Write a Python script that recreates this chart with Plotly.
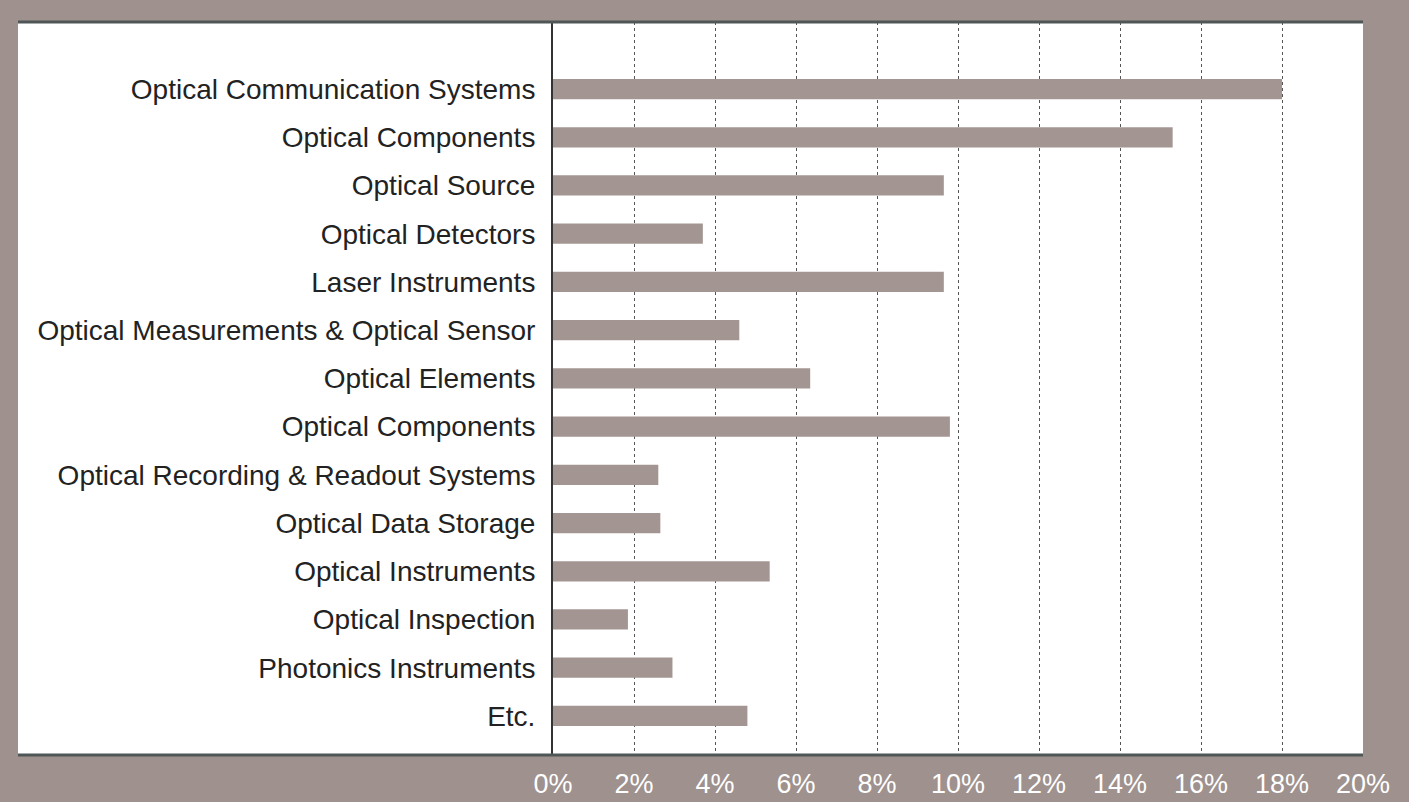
import plotly.graph_objects as go

categories = [
    "Optical Communication Systems",
    "Optical Components",
    "Optical Source",
    "Optical Detectors",
    "Laser Instruments",
    "Optical Measurements & Optical Sensor",
    "Optical Elements",
    "Optical Components",
    "Optical Recording & Readout Systems",
    "Optical Data Storage",
    "Optical Instruments",
    "Optical Inspection",
    "Photonics Instruments",
    "Etc.",
]
values = [18.0, 15.3, 9.65, 3.7, 9.65, 4.6, 6.35, 9.8, 2.6, 2.65, 5.35, 1.85, 2.95, 4.8]
x_ticks = [0, 2, 4, 6, 8, 10, 12, 14, 16, 18, 20]
x_tick_labels = [f"{t}%" for t in x_ticks]

positions = list(range(len(categories)))

BG = "#9e918e"
BAR = "#a39692"
FONT = "Liberation Sans, Arial, sans-serif"

fig = go.Figure(
    go.Bar(
        x=values,
        y=positions,
        orientation="h",
        width=0.42,
        marker=dict(color=BAR, line=dict(width=0)),
        hoverinfo="x+text",
        text=categories,
        textposition="none",
    )
)

fig.update_layout(
    width=1409,
    height=802,
    margin=dict(l=553, r=46, t=22, b=47, autoexpand=False),
    paper_bgcolor=BG,
    plot_bgcolor="white",
    showlegend=False,
    font=dict(family=FONT, color="#222222", size=28),
    shapes=[
        dict(type="rect", xref="paper", yref="paper", x0=(18 - 553) / 810, x1=1.0,
             y0=0, y1=1, fillcolor="white", line=dict(width=0), layer="below"),
        dict(type="line", xref="paper", yref="paper", x0=(18 - 553) / 810, x1=1.0,
             y0=1, y1=1, line=dict(color="#4f5656", width=3)),
        dict(type="line", xref="paper", yref="paper", x0=(18 - 553) / 810, x1=1.0,
             y0=0, y1=0, line=dict(color="#4f5656", width=3)),
    ],
)

fig.update_xaxes(
    range=[0, 20],
    tickvals=x_ticks,
    ticktext=x_tick_labels,
    showgrid=True,
    gridcolor="#555555",
    griddash="dot",
    gridwidth=1,
    zeroline=False,
    showline=False,
    ticks="",
    ticklabelstandoff=10,
    tickfont=dict(color="white", size=27, family=FONT),
    automargin=False,
    fixedrange=True,
)

fig.update_yaxes(
    range=[13.81, -1.39],
    tickvals=positions,
    ticktext=categories,
    showgrid=False,
    zeroline=False,
    showline=True,
    linecolor="#333333",
    linewidth=2,
    ticks="",
    ticklabelstandoff=10,
    tickfont=dict(color="#222222", size=28, family=FONT),
    automargin=False,
    fixedrange=True,
)

fig.write_html(
    "out.html",
    config={"displayModeBar": False},
    post_script="document.body.style.margin='0';document.body.style.background='" + BG + "';",
)
